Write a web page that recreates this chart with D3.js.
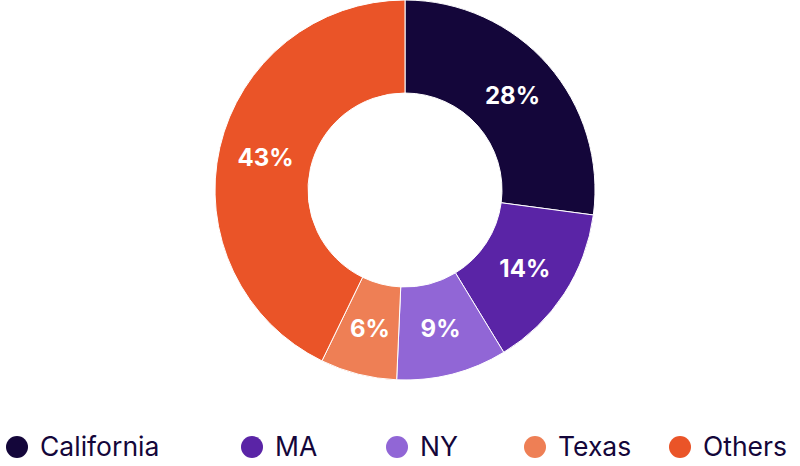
<!DOCTYPE html>
<html><head><meta charset="utf-8">
<script src="https://cdn.jsdelivr.net/npm/d3@7"></script>
<style>body{margin:0;background:#fff}</style></head>
<body><svg id="c" width="800" height="466"></svg>
<script>
const categories=["California","MA","NY","Texas","Others"];
const values=[27.1,14.2,9.4,6.5,42.8];
const labels=["28%","14%","9%","6%","43%"];
const colors=["#14063a","#5a24a6","#9166d6","#ee7f55","#ea5428"];
const legendX=[17,252,397,535,680];
const svg=d3.select("#c");
const g=svg.append("g").attr("transform","translate(405,190)");
const pie=d3.pie().sort(null)(values);
const arc=d3.arc().innerRadius(97).outerRadius(190);
const lab=d3.arc().innerRadius(143).outerRadius(143);
g.selectAll("path").data(pie).join("path").attr("d",arc).attr("fill",(d,i)=>colors[i]).attr("stroke","#fff").attr("stroke-width",1);
g.selectAll("text").data(pie).join("text").attr("transform",d=>`translate(${lab.centroid(d)})`)
 .attr("text-anchor","middle").attr("dy","0.35em").attr("fill","#fff")
 .attr("font-family","Inter, sans-serif").attr("font-weight",700).attr("font-size",24)
 .text((d,i)=>labels[i]);
const lg=svg.append("g");
categories.forEach((c,i)=>{
 lg.append("circle").attr("cx",legendX[i]).attr("cy",447).attr("r",11).attr("fill",colors[i]);
 lg.append("text").attr("x",legendX[i]+23).attr("y",447).attr("dy","0.35em")
  .attr("font-family","Inter, sans-serif").attr("font-size",26.5).attr("fill","#14063a").text(c);
});
</script></body></html>
